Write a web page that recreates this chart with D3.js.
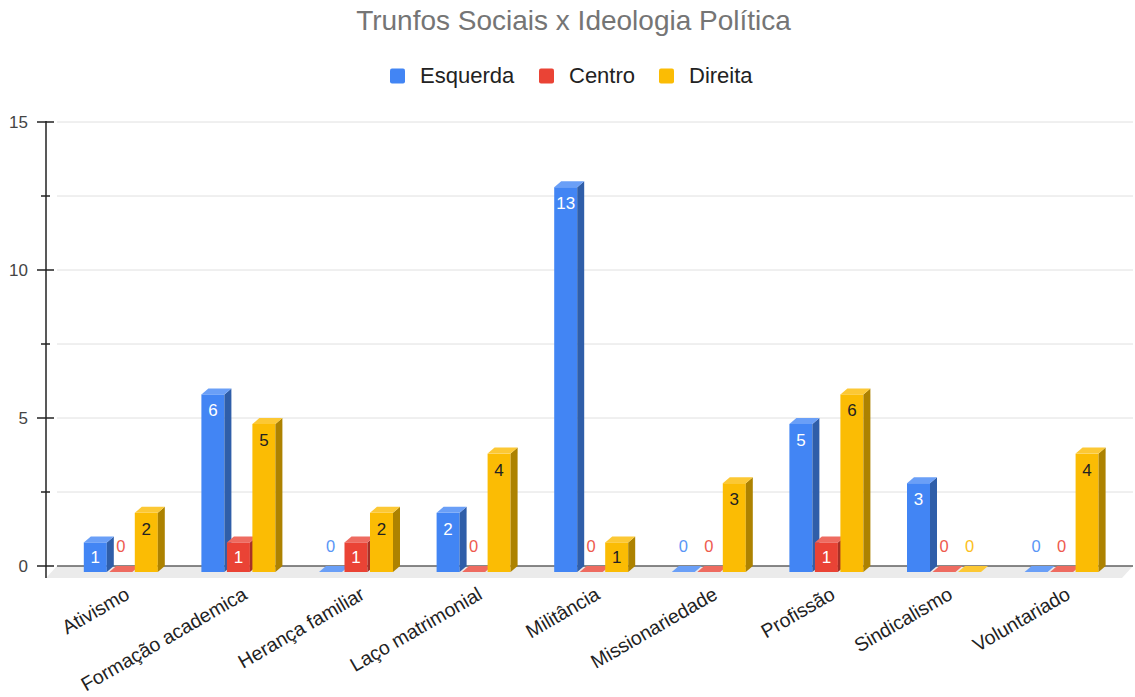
<!DOCTYPE html>
<html><head><meta charset="utf-8">
<script src="https://cdn.jsdelivr.net/npm/d3@7"></script>
<style>body{margin:0;background:#fff}svg{display:block}</style>
</head><body>
<svg id="c" width="1135" height="697"></svg>
<script>
const categories = ["Ativismo","Formação academica","Herança familiar","Laço matrimonial","Militância","Missionariedade","Profissão","Sindicalismo","Voluntariado"];
const seriesNames = ["Esquerda","Centro","Direita"];
const esquerda = [1,6,0,2,13,0,5,3,0];
const centro   = [0,1,1,0,0,0,1,0,0];
const direita  = [2,5,2,4,1,3,6,0,4];
const yTicks = [0,5,10,15];
const yMinor = [2.5,7.5,12.5];

const values = [esquerda, centro, direita];
const colors = ["#4285f4","#ea4335","#fbbc04"];
const topCol = ["#6a9ff7","#ee6b60","#fcc834"];
const sideCol = ["#2f5ea9","#a83026","#ad8200"];
const zeroLbl = ["#5a96f6","#ee5a4e","#fcc021"];
const inLbl = ["#ffffff","#ffffff","#222222"];
const font = "'Liberation Sans', Arial, sans-serif";

const svg = d3.select("#c");
const dx = 7, dy = 6;
const yBack = d3.scaleLinear().domain([0,15]).range([566,122]);
const yFront = d3.scaleLinear().domain([0,15]).range([572,128]);
const x = d3.scaleBand().domain(categories).range([62,1120.4]).padding(0);
const inner = d3.scaleBand().domain(seriesNames).range([-37,37]).paddingInner(0.098).paddingOuter(0);

// title
svg.append("text").attr("x",573.5).attr("y",30).attr("text-anchor","middle")
  .attr("font-family",font).attr("font-size",28).attr("fill","#757575")
  .text("Trunfos Sociais x Ideologia Política");

// legend
const legX = [390,539,659];
seriesNames.forEach((s,i)=>{
  svg.append("rect").attr("x",legX[i]).attr("y",68.5).attr("width",15).attr("height",15).attr("rx",2).attr("fill",colors[i]);
  svg.append("text").attr("x",legX[i]+30).attr("y",83).attr("font-family",font).attr("font-size",22).attr("fill","#222").text(s);
});

// gridlines
const gridVals = d3.range(0,15.01,2.5);
svg.append("g").selectAll("line").data(gridVals.filter(v=>v>0)).join("line")
  .attr("x1",57).attr("x2",1133).attr("y1",d=>yBack(d)).attr("y2",d=>yBack(d))
  .attr("stroke","#e0e0e0").attr("stroke-width",1);

// floor
svg.append("polygon")
  .attr("points",[[57,566],[1133,566],[1122,578],[46,578]].map(p=>p.join(",")).join(" "))
  .attr("fill","#ebebeb");
svg.append("line").attr("x1",57).attr("x2",1133).attr("y1",566).attr("y2",566).attr("stroke","#616161").attr("stroke-width",1.5);

// axis
svg.append("line").attr("x1",46).attr("x2",46).attr("y1",121).attr("y2",578).attr("stroke","#222").attr("stroke-width",1.5);
svg.append("g").selectAll("line").data(yTicks).join("line")
  .attr("x1",37).attr("x2",54).attr("y1",d=>yBack(d)).attr("y2",d=>yBack(d)).attr("stroke","#222").attr("stroke-width",1.5);
svg.append("g").selectAll("line").data(yMinor).join("line")
  .attr("x1",41).attr("x2",50).attr("y1",d=>yBack(d)).attr("y2",d=>yBack(d)).attr("stroke","#222").attr("stroke-width",1.5);
svg.append("g").selectAll("text").data(yTicks).join("text")
  .attr("x",28).attr("y",d=>yBack(d)+6).attr("text-anchor","end")
  .attr("font-family",font).attr("font-size",17).attr("fill","#444").text(d=>d);

// bars
const bars = [];
categories.forEach((c,ci)=>{
  seriesNames.forEach((s,si)=>{
    bars.push({c, s, si, v: values[si][ci]});
  });
});
const g = svg.append("g");
bars.forEach(b=>{
  const x0 = x(b.c) + x.bandwidth()/2 + inner(b.s);
  const w = inner.bandwidth();
  const yt = yFront(b.v), yb = yFront(0);
  const pts = a=>a.map(p=>p.join(",")).join(" ");
  if (b.v > 0) {
    g.append("rect").attr("x",x0).attr("y",yt).attr("width",w).attr("height",yb-yt).attr("fill",colors[b.si]);
    g.append("polygon").attr("points",pts([[x0+w,yt],[x0+w+dx,yt-dy],[x0+w+dx,yb-dy],[x0+w,yb]])).attr("fill",sideCol[b.si]);
  }
  g.append("polygon").attr("points",pts([[x0,yt],[x0+dx,yt-dy],[x0+w+dx,yt-dy],[x0+w,yt]])).attr("fill",topCol[b.si]);
  const cx = x0 + w/2;
  if (b.v > 0) {
    const ly = Math.min(yt+16, (yt+yb)/2);
    g.append("text").attr("x",cx).attr("y",ly+6).attr("text-anchor","middle")
      .attr("font-family",font).attr("font-size",17).attr("fill",inLbl[b.si]).text(b.v);
  } else {
    g.append("text").attr("x",cx).attr("y",552).attr("text-anchor","middle")
      .attr("font-family",font).attr("font-size",16.5).attr("fill",zeroLbl[b.si]).text(b.v);
  }
});

// x labels
svg.append("g").selectAll("text").data(categories).join("text")
  .attr("transform",d=>`translate(${x(d)+x.bandwidth()/2+10},598) rotate(-30)`)
  .attr("text-anchor","end").attr("font-family",font).attr("font-size",19.5).attr("fill","#222")
  .text(d=>d);
</script>
</body></html>
